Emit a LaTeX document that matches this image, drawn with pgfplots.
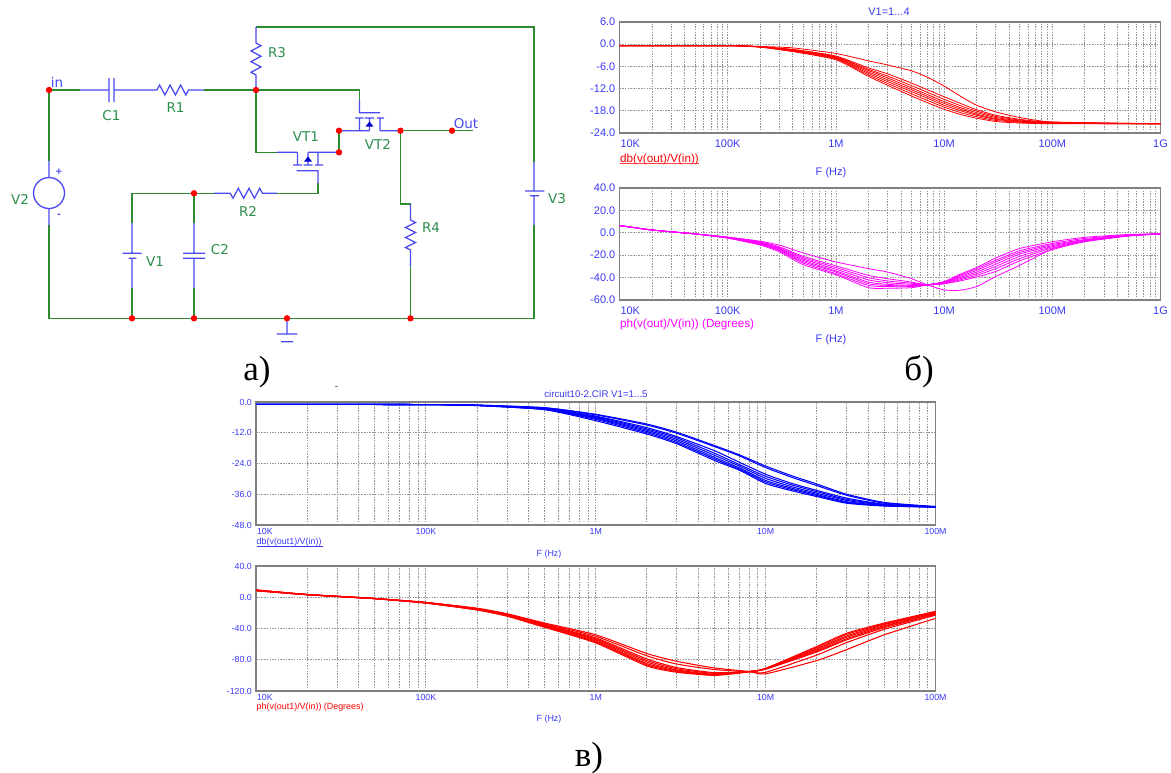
\documentclass[border=0pt]{standalone}
\usepackage{fontspec}
\setmainfont{Liberation Sans}
\newfontfamily\serifru{Liberation Serif}
\newfontfamily\djv{DejaVu Sans}
\usepackage{pgfplots}
\usepackage{pgfplotstable}
\pgfplotsset{compat=1.18}
\definecolor{txtblue}{HTML}{3A3AF5}
\definecolor{wgreen}{HTML}{2E8B2E}
\definecolor{wblue}{HTML}{4A4AF0}
\definecolor{lblgreen}{HTML}{2C8F4C}
\definecolor{gridg}{HTML}{959595}
\definecolor{framec}{HTML}{808080}
\definecolor{puremag}{HTML}{FF00FF}
\definecolor{purered}{HTML}{FF0000}
\definecolor{pureblue}{HTML}{0000FF}
\pgfplotstableread{
f c1 c2 c3 c4 c5 c6 c7 c8
1e4 -0.4 -0.4 -0.4 -0.4 -0.4 -0.4 -0.4 -0.4
1e5 -0.4 -0.4 -0.4 -0.4 -0.4 -0.4 -0.4 -0.4
2e5 -0.6 -0.7 -0.7 -0.7 -0.7 -0.7 -0.8 -0.8
4e5 -1.0 -1.4 -1.5 -1.6 -1.7 -1.8 -1.9 -2.0
1e6 -2.5 -3.2 -3.4 -3.5 -3.7 -3.8 -4.0 -4.2
2e6 -4.5 -6.4 -6.8 -7.1 -7.5 -7.9 -8.3 -8.7
3e6 -5.6 -8.0 -8.6 -9.1 -9.6 -10.1 -10.6 -11.1
5e6 -7.2 -10.5 -11.2 -11.8 -12.3 -12.8 -13.4 -14.0
7e6 -8.9 -12.3 -13.0 -13.6 -14.1 -14.6 -15.2 -15.8
1e7 -11.3 -14.2 -14.9 -15.5 -16.0 -16.5 -17.0 -17.6
1.5e7 -14.5 -16.3 -16.9 -17.4 -17.8 -18.2 -18.7 -19.2
2e7 -16.5 -17.7 -18.1 -18.5 -18.9 -19.2 -19.6 -20.0
3e7 -18.3 -19.2 -19.5 -19.8 -20.1 -20.3 -20.6 -20.9
5e7 -19.8 -20.3 -20.5 -20.7 -20.8 -21.0 -21.1 -21.3
1e8 -21.0 -21.1 -21.2 -21.3 -21.3 -21.4 -21.4 -21.5
1e9 -21.5 -21.5 -21.5 -21.5 -21.5 -21.5 -21.5 -21.5
}\tblA
\pgfplotstableread{
f c1 c2 c3 c4 c5 c6 c7 c8
1e4 6.5 6.5 6.5 6.5 6.5 6.5 6.5 6.5
2e4 2.5 2.5 2.5 2.5 2.5 2.5 2.5 2.5
5e4 -1 -1 -1 -1 -1 -1 -1 -1
1e5 -3.8 -4 -4.2 -4.3 -4.4 -4.5 -4.6 -4.8
2e5 -7.5 -8 -8.5 -9 -9.5 -10 -10.5 -11
3e5 -11 -12.5 -13.3 -14 -14.7 -15.4 -16 -17
5e5 -18 -21 -22.2 -23.4 -24.6 -25.8 -27 -28.5
1e6 -26 -29.5 -31 -32.5 -34 -35 -36.5 -37.5
2e6 -32 -38 -40 -42 -44 -45.5 -47 -49
3e6 -35 -41 -43 -44.5 -46 -47 -48 -49.5
5e6 -41 -44 -45 -46 -47 -47.5 -48 -49
7e6 -46.5 -46.5 -46.5 -46.5 -46.5 -46.5 -46.5 -46.5
1e7 -51 -45.5 -45.5 -45 -44.5 -44 -44 -43.5
1.4e7 -51.3 -43 -42 -41 -40 -39 -38 -37
2e7 -48 -39.5 -38 -36.5 -35 -33.5 -32 -31
3e7 -39 -34.5 -32 -30 -28 -26 -24.5 -22.5
5e7 -29 -25 -23 -21 -19 -17.5 -16 -14
1e8 -14.5 -15 -13.5 -12.5 -11.5 -10.5 -9.5 -8
2e8 -7 -8 -7.5 -7 -6.5 -6 -5 -4
5e8 -2.5 -3 -2.8 -2.5 -2.3 -2.1 -2 -1.5
1e9 -1 -1 -1 -1 -1 -1 -1 -0.8
}\tblB
\pgfplotstableread{
f c1 c2 c3 c4 c5 c6 c7 c8
1e4 -0.9 -0.9 -0.9 -0.9 -0.9 -0.9 -0.9 -0.9
1e5 -1 -1 -1 -1 -1 -1 -1 -1
2e5 -1.2 -1.2 -1.3 -1.3 -1.3 -1.3 -1.4 -1.4
5e5 -2.2 -2.3 -2.5 -2.6 -2.7 -2.8 -2.9 -3
1e6 -4.8 -5 -5.5 -5.8 -6.1 -6.4 -6.8 -7.3
2e6 -8.6 -9 -10 -10.5 -11 -11.5 -12 -12.5
3e6 -11.8 -12.2 -13.5 -14 -14.6 -15.2 -15.8 -16.3
5e6 -17 -17.4 -19 -20 -20.8 -21.6 -22.2 -22.8
7e6 -20.6 -21 -23.5 -24.4 -25 -25.7 -26.2 -26.6
1e7 -25 -25.6 -28.2 -29 -29.8 -30.6 -31.2 -31.8
1.4e7 -28.6 -29.2 -31.6 -32.2 -32.9 -33.5 -34 -34.5
2e7 -32 -32.6 -34.5 -35 -35.6 -36.1 -36.5 -36.9
3e7 -36 -36.4 -37.5 -38 -38.4 -38.9 -39.2 -39.5
5e7 -39.2 -39.5 -39.9 -40 -40.2 -40.4 -40.5 -40.6
1e8 -40.8 -40.8 -41 -41 -41 -41 -41 -41
}\tblC
\pgfplotstableread{
f c1 c2 c3 c4 c5 c6 c7 c8
1e4 9.5 9.3 9.1 9 8.8 8.6 8.4 8.2
2e4 3.6 3.5 3.5 3.4 3.4 3.3 3.3 3.2
5e4 -1.5 -1.6 -1.6 -1.7 -1.7 -1.8 -1.8 -1.9
1e5 -6.5 -6.7 -6.8 -7 -7.1 -7.2 -7.4 -7.5
2e5 -14 -14.5 -15 -15.2 -15.5 -15.7 -16 -16.3
3e5 -21 -21.7 -22.2 -22.6 -23 -23.4 -23.8 -24.2
5e5 -33 -34 -35 -35.7 -36.4 -37 -37.8 -38.5
1e6 -48 -50 -52 -53.3 -54.6 -56 -57.2 -58.5
2e6 -72 -75 -79 -81 -83 -85 -86.5 -88
3e6 -82 -85.5 -90 -91.5 -93 -94 -95 -96
5e6 -90.5 -92.5 -96.5 -97.5 -98.5 -99 -99.5 -100
8e6 -95 -95.5 -95 -95 -95 -95 -95 -95.5
1e7 -98 -96 -92 -92 -91.5 -91.5 -91 -91
2e7 -81 -74 -70 -69 -67.5 -66 -64.5 -63
3e7 -67 -58 -54.5 -53 -51 -49.5 -47.5 -46
5e7 -48 -41 -39 -37.5 -36.5 -35 -34 -33
1e8 -27 -23 -22 -21 -20.5 -19.5 -19 -18
}\tblD
\pgfplotsset{
  simbase/.style={
    scale only axis, xmin=1e4,
    axis line style={framec,line width=1.2pt},
    major tick length=0pt, minor tick length=0pt,
    grid=both,
    major grid style={gridg,line width=0.8pt,dash pattern=on 1.5pt off 1.2pt},
    minor grid style={gridg,line width=0.8pt,dash pattern=on 1.5pt off 1.2pt},
    tick label style={text=txtblue},
    yticklabel style={anchor=east,inner sep=0pt,xshift=-4pt},
    xticklabel style={anchor=north,inner sep=0pt},
  },
  bigplot/.style={simbase,width=541pt,height=111pt,xmax=1e9,
    xtick={1e4,1e5,1e6,1e7,1e8,1e9},
    minor xtick={2e4,3e4,4e4,5e4,6e4,7e4,8e4,9e4,2e5,3e5,4e5,5e5,6e5,7e5,8e5,9e5,2e6,3e6,4e6,5e6,6e6,7e6,8e6,9e6,2e7,3e7,4e7,5e7,6e7,7e7,8e7,9e7,2e8,3e8,4e8,5e8,6e8,7e8,8e8,9e8},
    xticklabels={\makebox[0pt][l]{\hspace{1pt}10K},100K,1M,10M,100M,1G},
    tick label style={font=\fontsize{11}{12}\selectfont},
    xticklabel style={yshift=-6.5pt},
  },
  lowplot/.style={simbase,width=679.5pt,xmax=1e8,
    xtick={1e4,1e5,1e6,1e7,1e8},
    minor xtick={2e4,3e4,4e4,5e4,6e4,7e4,8e4,9e4,2e5,3e5,4e5,5e5,6e5,7e5,8e5,9e5,2e6,3e6,4e6,5e6,6e6,7e6,8e6,9e6,2e7,3e7,4e7,5e7,6e7,7e7,8e7,9e7},
    xticklabels={\makebox[0pt][l]{\hspace{1pt}10K},100K,1M,10M,100M},
    tick label style={font=\fontsize{8.8}{10}\selectfont},
    xticklabel style={yshift=-3pt},
  },
  curvebig/.style={line width=0.8pt,smooth,tension=0.35},
  curvelow/.style={line width=1.05pt,smooth,tension=0.35},
}
\begin{document}
\begin{tikzpicture}
\path[use as bounding box,fill=white] (0,0) rectangle (1171pt,-772pt);
\begin{semilogxaxis}[bigplot,at={(619.5pt,-22pt)},anchor=north west,ymin=-24,ymax=6,
  ytick={-24,-18,-12,-6,0,6},yticklabels={-24.0,-18.0,-12.0,-6.0,0.0,6.0}]
\pgfplotsinvokeforeach{1,...,8}{\addplot[purered,curvebig] table[x=f,y=c#1]{\tblA};}
\end{semilogxaxis}
\begin{semilogxaxis}[bigplot,at={(619.5pt,-188pt)},anchor=north west,height=112pt,ymin=-60,ymax=40,
  ytick={-60,-40,-20,0,20,40},yticklabels={-60.0,-40.0,-20.0,0.0,20.0,40.0}]
\pgfplotsinvokeforeach{1,...,8}{\addplot[puremag,curvebig] table[x=f,y=c#1]{\tblB};}
\end{semilogxaxis}
\begin{semilogxaxis}[lowplot,at={(256pt,-402pt)},anchor=north west,height=123pt,ymin=-48,ymax=0,
  ytick={-48,-36,-24,-12,0},yticklabels={-48.0,-36.0,-24.0,-12.0,0.0}]
\pgfplotsinvokeforeach{1,...,8}{\addplot[pureblue,curvelow] table[x=f,y=c#1]{\tblC};}
\end{semilogxaxis}
\begin{semilogxaxis}[lowplot,at={(256pt,-566pt)},anchor=north west,height=125pt,ymin=-120,ymax=40,
  ytick={-120,-80,-40,0,40},yticklabels={-120.0,-80.0,-40.0,0.0,40.0}]
\pgfplotsinvokeforeach{1,...,8}{\addplot[purered,curvelow] table[x=f,y=c#1]{\tblD};}
\end{semilogxaxis}
\begin{scope}[x=1pt,y=-1pt]
\tikzset{tt/.style={text=txtblue,inner sep=0pt,font=\fontsize{11}{12}\selectfont},
 tm/.style={text=txtblue,inner sep=0pt,font=\fontsize{11.7}{12}\selectfont},
 ts/.style={text=txtblue,inner sep=0pt,font=\fontsize{8.9}{10}\selectfont}}
\node[tt] at (889,12) {V1=1...4};
\node[tm,anchor=west,text=purered] at (620,159) {db(v(out)/V(in))};
\draw[purered!75,line width=0.9pt] (620,163.5)--(699,163.5);
\node[tt] at (831,173) {F (Hz)};
\node[tm,anchor=west,text=puremag] at (620,324) {ph(v(out)/V(in)) (Degrees)};
\node[tt] at (831,340) {F (Hz)};
\node[ts,font=\fontsize{9.7}{10}\selectfont] at (596,394) {circuit10-2.CIR V1=1...5};
\node[ts,anchor=west] at (256.5,542) {db(v(out1)/V(in))};
\draw[txtblue,line width=0.8pt] (257,546)--(323,546);
\node[ts] at (549,554) {F (Hz)};
\node[ts,anchor=west,text=purered] at (256.5,707) {ph(v(out1)/V(in)) (Degrees)};
\node[ts] at (549,719) {F (Hz)};
\node[inner sep=0pt,font=\serifru\fontsize{35}{36}\selectfont] at (257,372) {а)};
\node[inner sep=0pt,font=\serifru\fontsize{35}{36}\selectfont] at (919,372) {б)};
\node[inner sep=0pt,font=\serifru\fontsize{35}{36}\selectfont] at (589,758) {в)};
\draw[gray,line width=0.8pt] (335,386) -- (338,386);
\draw[wgreen,line width=1.05pt]
 (49,161)--(49,90)--(80,90) (204,90)--(359.5,90)--(359.5,100)
 (256,27)--(534,27)--(534,162)
 (256,90)--(256,152.3)--(277,152.3)
 (339,130.7)--(339,152.3)
 (400.5,130.7)--(473,130.7)
 (400.5,130.7)--(400.5,204)--(410.5,204)
 (410.5,266.7)--(410.5,318.3)
 (318,183)--(318,193.3)--(277,193.3)
 (214,193.3)--(132,193.3)--(132,223)
 (194,193.3)--(194,223)
 (132,288)--(132,318.3) (194,288)--(194,318.3)
 (49,225)--(49,318.3)--(534,318.3)--(534,225);
\draw[wblue,line width=1.25pt]
 (49,161)--(49,178) (49,208)--(49,225)
 (80,90)--(109,90) (114,90)--(157,90)
 (109,78)--(109,102) (114,78)--(114,102)
 (157,90)--(159.6,85)--(164.9,95)--(170.1,85)--(175.4,95)--(180.6,85)--(185.9,95)--(188.5,90)--(204,90)
 (256,27)--(256,43)--(261,45.7)--(251,51)--(261,56.3)--(251,61.7)--(261,67)--(251,72.3)--(256,75)--(256,90)
 (410.5,204)--(410.5,220)--(415.5,222.5)--(405.5,227.5)--(415.5,232.5)--(405.5,237.5)--(415.5,242.5)--(405.5,247.5)--(410.5,250)--(410.5,266.7)
 (277,193.3)--(262.4,193.3)--(259.7,188.3)--(254.4,198.3)--(249,188.3)--(243.7,198.3)--(238.3,188.3)--(233,198.3)--(230.3,193.3)--(214,193.3)
 (132,223)--(132,253.3) (122.5,253.3)--(141.7,253.3) (128.5,258.3)--(136.4,258.3) (132,258.3)--(132,288)
 (194,223)--(194,253.3) (183,253.3)--(205,253.3) (183,258.3)--(205,258.3) (194,258.3)--(194,288)
 (534,162)--(534,191) (525,191)--(544.4,191) (530,195.7)--(539,195.7) (534,195.7)--(534,225)
 (287,318.3)--(287,334) (276.7,334)--(297.4,334) (281,341.7)--(293,341.7)
 (359.5,100)--(359.5,112.7)--(380,112.7)
 (355,118)--(363.5,118) (365,118)--(374,118) (377,118)--(384,118)
 (359.5,118)--(359.5,130.7) (380,118)--(380,130.7) (369.5,118)--(369.5,130.7)
 (339,130.7)--(369.5,130.7) (380,130.7)--(400.5,130.7)
 (277,152.3)--(297.4,152.3) (297.4,152.3)--(297.4,165) (318,152.3)--(318,165)
 (293,165)--(302,165) (303.5,165)--(312.5,165) (315,165)--(323,165)
 (308,152.3)--(308,165) (308,152.3)--(339,152.3)
 (296.5,170.7)--(318,170.7)--(318,183);
\draw[wblue,line width=1.3pt] (49,193) ellipse [x radius=15.5pt,y radius=15.5pt];
\fill[blue!80!black] (369.5,121.5)--(365.5,126.5)--(373.5,126.5)--cycle;
\fill[blue!80!black] (308,156.5)--(304,161.5)--(312,161.5)--cycle;
\foreach \p in {(49,90),(256,90),(339,130.7),(339,152.3),(400.5,130.7),(452,130.7),(194,193.3),(132,318.3),(194,318.3),(287,318.3),(410.5,318.3)}
 \fill[purered] \p circle [radius=3.2pt];
\tikzset{cl/.style={text=lblgreen,inner sep=0pt,font=\djv\fontsize{13.5}{14}\selectfont},
 cb/.style={text=wblue,inner sep=0pt,font=\djv\fontsize{13.5}{14}\selectfont}}
\node[cl] at (111.5,116) {C1};
\node[cl] at (175.5,108) {R1};
\node[cl] at (277,53) {R3};
\node[cl] at (306,137) {VT1};
\node[cl] at (378,144) {VT2};
\node[cl] at (248,211) {R2};
\node[cl] at (155,262) {V1};
\node[cl] at (220,250) {C2};
\node[cl] at (431,228) {R4};
\node[cl] at (20,199) {V2};
\node[cl] at (557,199) {V3};
\node[cb] at (57,82) {in};
\node[cb] at (466,124) {Out};
\node[cb,font=\djv\bfseries\fontsize{9}{10}\selectfont] at (59,172) {+};
\node[cb,font=\djv\bfseries\fontsize{9}{10}\selectfont] at (59,216) {-};
\end{scope}
\end{tikzpicture}
\end{document}
